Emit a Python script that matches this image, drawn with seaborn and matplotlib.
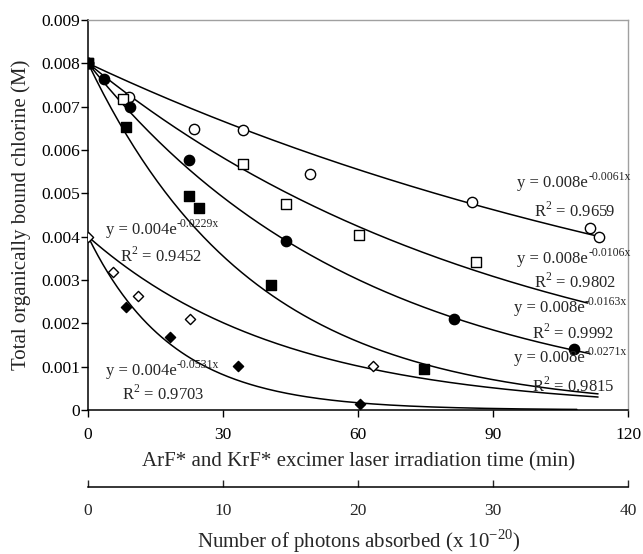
import numpy as np
import pandas as pd
import matplotlib
matplotlib.use("Agg")
import matplotlib.pyplot as plt
import seaborn as sns

# measured points (time in min, concentration in M)
open_circle_x = [0, 9.0, 23.6, 34.5, 49.2, 85.3, 111.4, 113.4]
open_circle_y = [0.0080, 0.00723, 0.00648, 0.00646, 0.00545, 0.00481, 0.00421, 0.00400]

open_square_x = [0, 7.8, 34.5, 44.0, 60.2, 86.2]
open_square_y = [0.0080, 0.00717, 0.00568, 0.00475, 0.00403, 0.00341]

filled_circle_x = [0, 3.6, 9.2, 22.5, 44.0, 81.2, 108.0]
filled_circle_y = [0.0080, 0.00764, 0.00700, 0.00576, 0.00390, 0.00211, 0.00140]

filled_square_x = [0, 8.4, 22.5, 24.7, 40.7, 74.7]
filled_square_y = [0.0080, 0.00653, 0.00493, 0.00465, 0.00289, 0.00094]

open_diamond_x = [0, 5.6, 11.0, 22.7, 63.3]
open_diamond_y = [0.0040, 0.00319, 0.00264, 0.00209, 0.00102]

filled_diamond_x = [8.4, 18.2, 33.2, 60.3]
filled_diamond_y = [0.00238, 0.00168, 0.00101, 0.00014]

# exponential fits y = a*exp(-k x), as printed on the chart
fit_a = [0.008, 0.008, 0.008, 0.008, 0.004, 0.004]
fit_k = [0.0061, 0.0106, 0.0163, 0.0271, 0.0229, 0.0531]
fit_r2 = ["0.9659", "0.9802", "0.9992", "0.9815", "0.9452", "0.9703"]
fit_xmax = [113.3, 111.0, 111.5, 113.3, 113.3, 108.6]

sns.set_theme(style="white")
plt.rcParams["font.family"] = ["Liberation Serif", "DejaVu Serif"]

fig = plt.figure(figsize=(6.43, 5.54), dpi=100)
ax = fig.add_axes([0.137, 0.26, 0.840, 0.704])

# fitted curves
for a, k, xm in zip(fit_a, fit_k, fit_xmax):
    xs = np.linspace(0, xm, 200)
    curve = pd.DataFrame({"x": xs, "y": a * np.exp(-k * xs)})
    sns.lineplot(data=curve, x="x", y="y", ax=ax, color="black", lw=1.1)

series = [
    (open_circle_x, open_circle_y, "o", "white", 55),
    (open_square_x, open_square_y, "s", "white", 50),
    (filled_circle_x, filled_circle_y, "o", "black", 55),
    (filled_square_x, filled_square_y, "s", "black", 50),
    (open_diamond_x, open_diamond_y, "D", "white", 27),
    (filled_diamond_x, filled_diamond_y, "D", "black", 27),
]
for xs, ys, m, fc, s in series:
    sns.scatterplot(x=xs, y=ys, ax=ax, marker=m, s=s, color=fc,
                    edgecolor="black", linewidth=1.0, zorder=3)

ax.set_xlim(0, 120)
ax.set_ylim(0, 0.009)
ax.set_xticks([0, 30, 60, 90, 120])
ax.set_yticks(np.arange(0, 0.0091, 0.001))
ax.set_yticklabels(["0", "0.001", "0.002", "0.003", "0.004", "0.005",
                    "0.006", "0.007", "0.008", "0.009"])
ax.tick_params(axis="both", direction="out", length=5, width=1, labelsize=12.5,
               colors="black", bottom=True, left=True)
ax.tick_params(axis="x", pad=7)
ax.tick_params(axis="y", pad=1)
for side in ["left", "bottom"]:
    ax.spines[side].set_color("black")
    ax.spines[side].set_linewidth(1.1)
for side in ["top", "right"]:
    ax.spines[side].set_color("#a0a0a0")
    ax.spines[side].set_linewidth(1.0)

ax.set_xlabel("ArF* and KrF* excimer laser irradiation time (min)", fontsize=15, labelpad=7)
ax.set_ylabel("Total organically bound chlorine (M)", fontsize=15, labelpad=7)

# secondary axis: photons absorbed
sec = ax.secondary_xaxis(-0.197, functions=(lambda x: x / 3.0, lambda x: x * 3.0))
sec.set_xticks([0, 10, 20, 30, 40])
sec.tick_params(direction="in", length=5, width=1, labelsize=12.5, pad=12)
sec.spines["bottom"].set_linewidth(1.1)
sec.spines["bottom"].set_color("black")
sec.set_xlabel("Number of photons absorbed (x 10$^{\\mathregular{-20}}$)", fontsize=15, labelpad=6)


def sup_text(x, y, base, sup):
    t = ax.text(x, y, base, fontsize=12, va="center", ha="left")
    ax.annotate(sup, xy=(1.0, 0.5), xycoords=t, fontsize=8.5,
                va="bottom", ha="left")


# equation labels
eq_pos = [(95.4, 0.00523, 99.0, 0.00458),
          (95.4, 0.00349, 99.0, 0.00295),
          (94.6, 0.00236, 98.6, 0.00177),
          (94.6, 0.00120, 98.6, 0.00056),
          (4.0, 0.00416, 7.2, 0.00356),
          (4.0, 0.00089, 7.6, 0.00037)]
for a, k, r2, (ex, ey, rx, ry) in zip(fit_a, fit_k, fit_r2, eq_pos):
    sup_text(ex, ey, "y = %.3fe" % a, "-%.4fx" % k)
    ax.text(rx, ry, "R$^{\\mathregular{2}}$ = %s" % r2, fontsize=12,
            va="center", ha="left")

fig.savefig("out.png", dpi=100)
